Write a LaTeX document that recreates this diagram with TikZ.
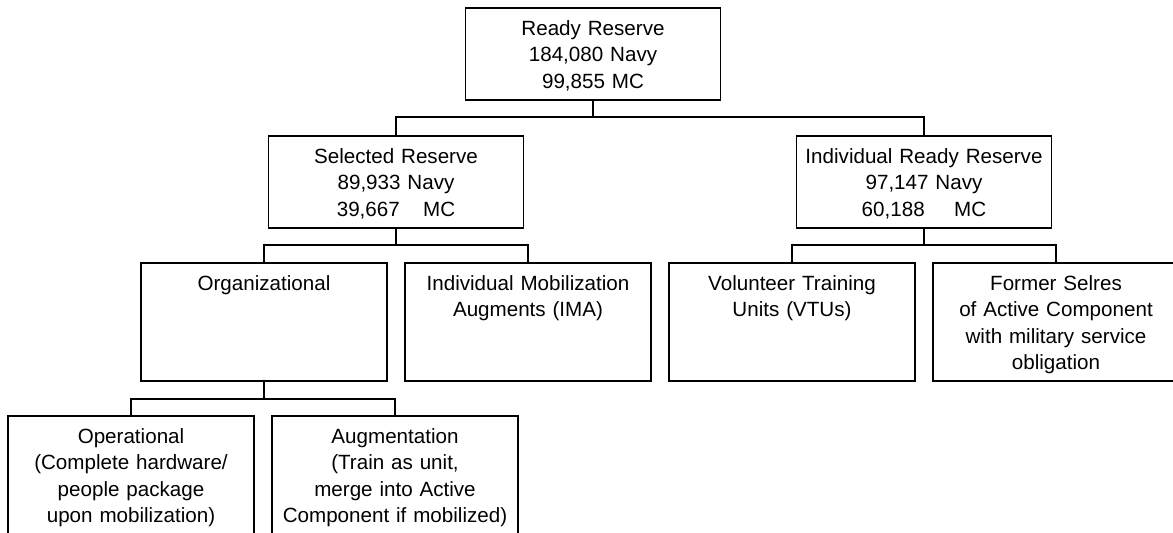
\documentclass[tikz,border=0pt]{standalone}
\usepackage{fontspec}
\setmainfont{Liberation Sans}
\usetikzlibrary{positioning, calc}
\tikzset{
  rbox/.style={rectangle, draw=black, line width=0.9pt, fill=white, inner sep=0pt, outer sep=0pt,
    text width=127.5pt, align=center, text height=13.75pt, text depth=32.25pt,
    font=\fontsize{10.3pt}{13.2pt}\selectfont},
  subbox/.style={rbox, text width=123pt, text depth=45.25pt},
  link/.style={line width=0.9pt, black},
}
\begin{document}
\begin{tikzpicture}
    \useasboundingbox (0,0) rectangle (586.5pt,-266.5pt);
    \clip (0,0) rectangle (586.5pt,-266.5pt);
    \node[subbox] (org) at (132pt,-161pt) {Organizational};
    \node[subbox, right=9pt of org] (ima) {Individual Mobilization\\Augments (IMA)};
    \node[subbox, right=9pt of ima] (vtu) {Volunteer Training\\Units (VTUs)};
    \node[subbox, right=9pt of vtu] (former) {Former Selres\\of Active Component\\with military service\\obligation};
    \node[rbox, above=17.5pt of {$(org.north)!0.5!(ima.north)$}] (sel) {Selected Reserve\\89,933 Navy\\39,667\hspace{0.8em} MC};
    \node[rbox, above=17.5pt of {$(vtu.north)!0.5!(former.north)$}] (irr) {Individual Ready Reserve\\97,147 Navy\\60,188\hspace{1.1em} MC};
    \node[rbox, above=18pt of sel, xshift=98.5pt] (ready) {Ready Reserve\\184,080 Navy\\99,855 MC};
    \node[subbox, below=17.5pt of org, xshift=-66.5pt] (oper) {Operational\\(Complete hardware/\\people package\\upon mobilization)};
    \node[subbox, right=9pt of oper] (aug) {Augmentation\\(Train as unit,\\merge into Active\\Component if mobilized)};
    \draw[link] (ready.south) -- ++(0,-8.5pt) -| (sel.north);
    \draw[link] (ready.south) -- ++(0,-8.5pt) -| (irr.north);
    \draw[link] (sel.south) -- ++(0,-8.5pt) -| (org.north);
    \draw[link] (sel.south) -- ++(0,-8.5pt) -| (ima.north);
    \draw[link] (irr.south) -- ++(0,-8.5pt) -| (vtu.north);
    \draw[link] (irr.south) -- ++(0,-8.5pt) -| (former.north);
    \draw[link] (org.south) -- ++(0,-9pt) -| (oper.north);
    \draw[link] (org.south) -- ++(0,-9pt) -| (aug.north);
\end{tikzpicture}
\end{document}
